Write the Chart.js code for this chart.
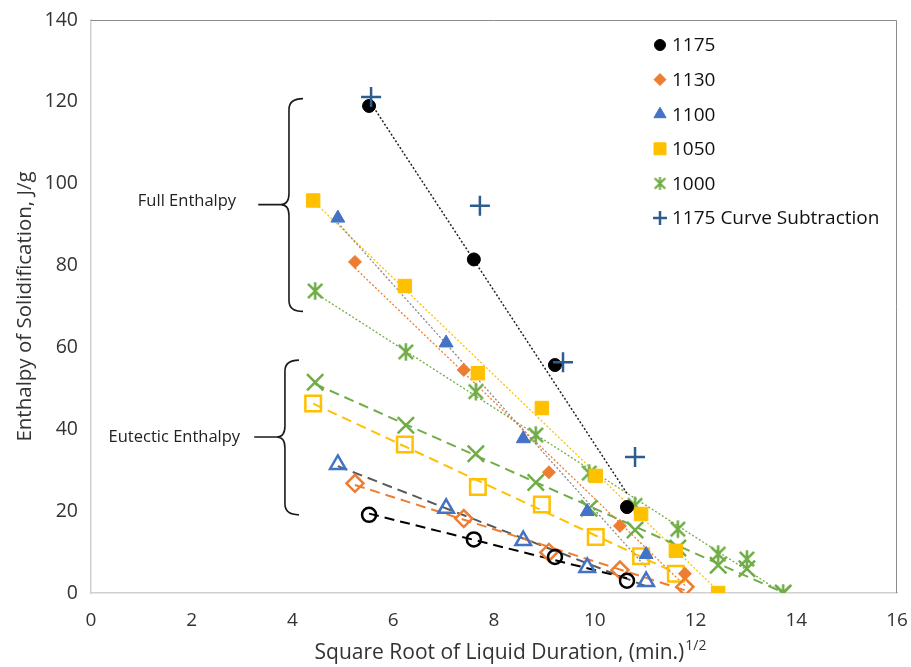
<!DOCTYPE html>
<html>
<head>
<meta charset="utf-8">
<script src="https://cdn.jsdelivr.net/npm/chart.js@4"></script>
<style>
  body { margin: 0; background: #fff; }
  canvas { display: block; }
</style>
</head>
<body>
<canvas id="enthalpy" width="911" height="667"></canvas>
<script>
// x = square root of liquid duration for each temperature series
const x1175 = [5.52, 7.6, 9.21, 10.64];
const full1175 = [119.0, 81.5, 55.7, 21.0];
const eut1175 = [19.1, 13.1, 8.8, 3.0];

const xCurveSub = [5.56, 7.72, 9.37, 10.8];
const curveSub1175 = [121.2, 94.6, 56.4, 33.2];

const x1130 = [5.24, 7.4, 9.09, 10.5, 11.79];
const full1130 = [80.9, 54.5, 29.5, 16.4, 4.7];
const eut1130 = [26.8, 18.2, 9.9, 5.6, 1.5];

const x1100 = [4.9, 7.05, 8.58, 9.85, 11.02];
const full1100 = [91.6, 61.1, 37.7, 19.9, 9.4];
const eut1100 = [31.4, 20.7, 12.8, 6.2, 2.8];

const x1050 = [4.41, 6.23, 7.68, 8.95, 10.02, 10.92, 11.61, 12.45];
const full1050 = [95.9, 75.0, 53.7, 45.2, 28.6, 19.3, 10.3, 0];
const eut1050 = [46.3, 36.3, 25.9, 21.6, 13.7, 9.0, 4.7];

const x1000 = [4.45, 6.25, 7.64, 8.83, 9.89, 10.8, 11.65, 12.45, 13.02, 13.74];
const full1000 = [73.8, 58.9, 49.2, 38.6, 29.3, 21.4, 15.6, 9.5, 8.3, 0];
const eut1000 = [51.5, 41.0, 34.0, 27.0, 20.7, 15.4, 11.0, 6.8, 5.9, 0];

const xTicks = [0, 2, 4, 6, 8, 10, 12, 14, 16];
const yTicks = [0, 20, 40, 60, 80, 100, 120, 140];

const BLACK = '#000000';
const ORANGE = '#ED7D31';
const BLUE = '#4472C4';
const GOLD = '#FFC000';
const GREEN = '#70AD47';
const NAVY = '#2C5D8C';

function pts(xs, ys) {
    return ys.map((v, i) => ({ x: xs[i], y: v }));
}

// least squares trendline over the x range of the series (like excel's linear trendline)
function trend(xs, ys) {
    const n = ys.length;
    const xx = xs.slice(0, n);
    const mx = xx.reduce((a, b) => a + b, 0) / n;
    const my = ys.reduce((a, b) => a + b, 0) / n;
    let sxy = 0, sxx = 0;
    for (let i = 0; i < n; i++) {
        sxy += (xx[i] - mx) * (ys[i] - my);
        sxx += (xx[i] - mx) * (xx[i] - mx);
    }
    const b = sxy / sxx;
    const a = my - b * mx;
    const x0 = Math.min(...xx), x1 = Math.max(...xx);
    return [{ x: x0, y: a + b * x0 }, { x: x1, y: a + b * x1 }];
}

// excel-like asterisk marker (X with a vertical bar)
function asterisk(size, color, lw) {
    const c = document.createElement('canvas');
    c.width = size; c.height = size;
    const g = c.getContext('2d');
    const m = lw / 2 + 1, h = size / 2, d = (size / 2 - m) * 0.82;
    g.strokeStyle = color;
    g.lineWidth = lw;
    g.beginPath();
    g.moveTo(h, m); g.lineTo(h, size - m);
    g.moveTo(h - d, h - d); g.lineTo(h + d, h + d);
    g.moveTo(h + d, h - d); g.lineTo(h - d, h + d);
    g.stroke();
    return c;
}
const starBig = asterisk(22, GREEN, 2.6);
const starSmall = asterisk(17, GREEN, 2.2);

const dotted = [2, 2];
const dashed = [10, 6];

function trendSet(xs, ys, color, dash, width, order) {
    return {
        data: trend(xs, ys), showLine: true, pointRadius: 0,
        borderColor: color, borderWidth: width, borderDash: dash, order: order
    };
}

const datasets = [
    {
        label: '1175 Curve Subtraction', data: pts(xCurveSub, curveSub1175),
        pointStyle: 'cross', pointRadius: 10, borderColor: NAVY, pointBorderWidth: 2.5, order: 0
    },
    {
        label: '1175', data: pts(x1175, full1175),
        pointStyle: 'circle', pointRadius: 6.5, backgroundColor: BLACK, borderColor: BLACK, order: 1
    },
    {
        label: '1130', data: pts(x1130, full1130),
        pointStyle: 'rectRot', pointRadius: 6.5, backgroundColor: ORANGE, borderColor: ORANGE, order: 2
    },
    {
        label: '1100', data: pts(x1100, full1100),
        pointStyle: 'triangle', pointRadius: 8, backgroundColor: BLUE, borderColor: BLUE, order: 3
    },
    {
        label: '1050', data: pts(x1050, full1050),
        pointStyle: 'rect', pointRadius: 9.5, backgroundColor: GOLD, borderColor: GOLD, order: 4
    },
    {
        label: '1000', data: pts(x1000, full1000),
        pointStyle: starBig, borderColor: GREEN, order: 5
    },
    {
        label: '1175 eutectic', data: pts(x1175, eut1175),
        pointStyle: 'circle', pointRadius: 7, backgroundColor: 'rgba(0,0,0,0)', borderColor: BLACK,
        pointBorderWidth: 2.5, order: 6
    },
    {
        label: '1130 eutectic', data: pts(x1130, eut1130),
        pointStyle: 'rectRot', pointRadius: 8.5, backgroundColor: 'rgba(0,0,0,0)', borderColor: ORANGE,
        pointBorderWidth: 2.5, order: 7
    },
    {
        label: '1100 eutectic', data: pts(x1100, eut1100),
        pointStyle: 'triangle', pointRadius: 9, backgroundColor: 'rgba(0,0,0,0)', borderColor: BLUE,
        pointBorderWidth: 2.5, order: 8
    },
    {
        label: '1050 eutectic', data: pts(x1050, eut1050),
        pointStyle: 'rect', pointRadius: 11, backgroundColor: 'rgba(0,0,0,0)', borderColor: GOLD,
        pointBorderWidth: 2.5, order: 9
    },
    {
        label: '1000 eutectic', data: pts(x1000, eut1000),
        pointStyle: 'crossRot', pointRadius: 11.5, borderColor: GREEN,
        pointBorderWidth: 2.5, order: 10
    },
    // trendlines
    trendSet(x1175, full1175, '#222', dotted, 1.5, 11),
    trendSet(x1130, full1130, ORANGE, dotted, 1.3, 12),
    trendSet(x1100, full1100, '#8a8a8a', dotted, 1.3, 13),
    trendSet(x1050, full1050, GOLD, dotted, 1.3, 14),
    trendSet(x1000, full1000, GREEN, dotted, 1.3, 15),
    trendSet(x1175, eut1175, BLACK, dashed, 2, 16),
    trendSet(x1130, eut1130, ORANGE, dashed, 2, 17),
    trendSet(x1100, eut1100, '#595959', dashed, 2, 18),
    trendSet(x1050, eut1050, GOLD, dashed, 2, 19),
    trendSet(x1000, eut1000, GREEN, dashed, 2, 20)
];

// legend entries (only the full-enthalpy series + curve subtraction)
const legendItems = [
    { text: '1175', style: 'circle', r: 5.5, fill: BLACK, stroke: BLACK },
    { text: '1130', style: 'rectRot', r: 6, fill: ORANGE, stroke: ORANGE },
    { text: '1100', style: 'triangle', r: 7, fill: BLUE, stroke: BLUE },
    { text: '1050', style: 'rect', r: 8.5, fill: GOLD, stroke: GOLD },
    { text: '1000', style: starSmall },
    { text: '1175 Curve Subtraction', style: 'cross', r: 7, fill: NAVY, stroke: NAVY, lw: 2.5 }
];

function brace(ctx, xs, ys, xLine, xTip, xStart, yTop, yMid, yBot) {
    const px = v => xs.getPixelForValue(v);
    const py = v => ys.getPixelForValue(v);
    const L = px(xLine), T = px(xTip), S = px(xStart);
    const t = py(yTop), m = py(yMid), b = py(yBot);
    const hk = 11;
    ctx.beginPath();
    ctx.moveTo(L + 14, t);
    ctx.quadraticCurveTo(L, t, L, t + hk);
    ctx.lineTo(L, m - hk);
    ctx.quadraticCurveTo(L, m, T, m);
    ctx.quadraticCurveTo(L, m, L, m + hk);
    ctx.lineTo(L, b - hk);
    ctx.quadraticCurveTo(L, b, L + 14, b);
    ctx.moveTo(S, m);
    ctx.lineTo(T, m);
    ctx.stroke();
}

const decor = {
    id: 'decor',
    afterDraw(chart) {
        const { ctx, chartArea: a, scales: { x, y } } = chart;
        ctx.save();
        // plot frame top / right
        ctx.strokeStyle = '#8c8c8c';
        ctx.lineWidth = 1;
        ctx.beginPath();
        ctx.moveTo(a.left, a.top + 0.5);
        ctx.lineTo(a.right - 0.5, a.top + 0.5);
        ctx.lineTo(a.right - 0.5, a.bottom);
        ctx.stroke();

        // braces
        ctx.strokeStyle = '#1a1a1a';
        ctx.lineWidth = 1.6;
        brace(ctx, x, y, 3.93, 3.77, 3.32, 120.8, 94.9, 68.8);
        brace(ctx, x, y, 3.85, 3.69, 3.24, 56.9, 38.1, 19.1);

        ctx.fillStyle = '#222';
        ctx.font = '16.5px "Open Sans"';
        ctx.textAlign = 'right';
        ctx.textBaseline = 'middle';
        ctx.fillText('Full Enthalpy', x.getPixelForValue(2.88), y.getPixelForValue(95.8));
        ctx.fillText('Eutectic Enthalpy', x.getPixelForValue(2.96), y.getPixelForValue(38.1));

        // legend
        ctx.textAlign = 'left';
        ctx.font = '19px "Open Sans"';
        legendItems.forEach((it, i) => {
            const cy = 45 + i * 34.6;
            const cx = 660;
            if (typeof it.style === 'string') {
                ctx.fillStyle = it.fill;
                ctx.strokeStyle = it.stroke;
                ctx.lineWidth = it.lw || 1;
                ctx.setLineDash([]);
                Chart.helpers.drawPoint(ctx, { pointStyle: it.style, radius: it.r, rotation: 0, borderWidth: it.lw || 1 }, cx, cy);
            } else {
                ctx.drawImage(it.style, cx - it.style.width / 2, cy - it.style.height / 2);
            }
            ctx.fillStyle = '#111';
            ctx.fillText(it.text, 672, cy + 1);
        });

        // x axis title with superscript
        const main = 'Square Root of Liquid Duration, (min.)';
        ctx.font = '21px "Open Sans"';
        const w1 = ctx.measureText(main).width;
        ctx.font = '14px "Open Sans"';
        const w2 = ctx.measureText('1/2').width;
        const startX = 510 - (w1 + w2) / 2;
        ctx.fillStyle = '#333';
        ctx.textBaseline = 'alphabetic';
        ctx.font = '21px "Open Sans"';
        ctx.fillText(main, startX, 659);
        ctx.font = '14px "Open Sans"';
        ctx.fillText('1/2', startX + w1 + 1, 650);
        ctx.restore();
    }
};

new Chart(document.getElementById('enthalpy').getContext('2d'), {
    type: 'scatter',
    data: { datasets: datasets },
    options: {
        responsive: false,
        animation: false,
        layout: { padding: { top: 20, right: 3, left: 0, bottom: 0 } },
        plugins: {
            legend: { display: false },
            tooltip: { enabled: false }
        },
        scales: {
            x: {
                type: 'linear',
                min: 0,
                max: 16,
                afterBuildTicks: s => { s.ticks = xTicks.map(v => ({ value: v })); },
                afterFit: s => { s.height = 74; s.paddingLeft = 0; s.paddingRight = 0; },
                grid: { display: false, drawTicks: false },
                border: { color: '#d0d0d0', width: 1.5 },
                ticks: {
                    padding: 16,
                    color: '#333',
                    font: { family: '"Open Sans"', size: 19 }
                }
            },
            y: {
                min: 0,
                max: 140,
                afterBuildTicks: s => { s.ticks = yTicks.map(v => ({ value: v })); },
                afterFit: s => { s.width = 91; s.paddingTop = 0; s.paddingBottom = 0; },
                grid: { display: false, drawTicks: false },
                border: { color: '#d0d0d0', width: 1.5 },
                ticks: {
                    padding: 13,
                    color: '#333',
                    font: { family: '"Open Sans"', size: 19.5 }
                },
                title: {
                    display: true,
                    text: 'Enthalpy of Solidification, J/g',
                    color: '#333',
                    font: { family: '"Open Sans"', size: 20.5 },
                    padding: { top: 13, bottom: 0 }
                }
            }
        }
    },
    plugins: [decor]
});
</script>
</body>
</html>
